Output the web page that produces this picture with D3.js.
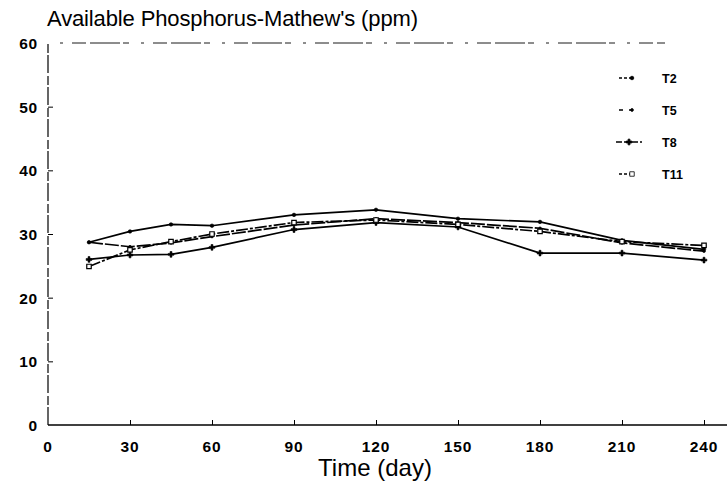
<!DOCTYPE html>
<html>
<head>
<meta charset="utf-8">
<script src="https://cdn.jsdelivr.net/npm/d3@7"></script>
<style>
  body { margin: 0; background: #fff; }
  svg text { font-family: "Liberation Sans", Arial, sans-serif; fill: #000; }
</style>
</head>
<body>
<svg width="727" height="500"></svg>
<script>
const days = [15, 30, 45, 60, 90, 120, 150, 180, 210, 240];
const t2  = [28.7, 30.4, 31.5, 31.3, 33.0, 33.8, 32.4, 31.9, 29.0, 27.6];
const t5  = [28.7, 28.0, 28.6, 29.6, 31.4, 32.4, 31.8, 30.9, 28.6, 27.3];
const t8  = [26.0, 26.7, 26.8, 27.9, 30.7, 31.8, 31.1, 27.0, 27.0, 25.9];
const t11 = [24.9, 27.5, 28.8, 30.0, 31.8, 32.2, 31.5, 30.4, 28.8, 28.2];
const seriesNames = ["T2", "T5", "T8", "T11"];
const xTicks = [0, 30, 60, 90, 120, 150, 180, 210, 240];
const yTicks = [0, 10, 20, 30, 40, 50, 60];

const series = [t2, t5, t8, t11].map((vals, i) => ({
  name: seriesNames[i],
  points: vals.map((v, j) => ({ day: days[j], v: v }))
}));

const svg = d3.select("svg");

const x = d3.scaleLinear().domain([0, 240]).range([48, 704]);
const y = d3.scaleLinear().domain([0, 60]).range([425, 43]);

// title
svg.append("text")
  .attr("x", 47).attr("y", 26)
  .attr("font-size", 22)
  .attr("textLength", 371)
  .text("Available Phosphorus-Mathew's (ppm)");

// axes lines
svg.append("line")
  .attr("x1", 48).attr("x2", 727)
  .attr("y1", y(0)).attr("y2", y(0))
  .attr("stroke", "#000").attr("stroke-width", 1.4);
svg.append("line")
  .attr("x1", 48).attr("x2", 48)
  .attr("y1", y(0)).attr("y2", y(60))
  .attr("stroke", "#000").attr("stroke-width", 1.2)
  .attr("stroke-dasharray", "18,2,9,3");
svg.append("line")
  .attr("x1", 60).attr("x2", 665)
  .attr("y1", y(60)).attr("y2", y(60))
  .attr("stroke", "#000").attr("stroke-width", 0.9)
  .attr("stroke-dasharray", "3,9,14,4,30,3,6,12");

// ticks
const xAxis = d3.axisTop(x).tickValues(xTicks.slice(1)).tickSize(5).tickFormat("");
svg.append("g")
  .attr("transform", `translate(0,${y(0)})`)
  .call(xAxis)
  .call(g => g.select(".domain").remove());

const yAxis = d3.axisRight(y).tickValues(yTicks.slice(1, -1)).tickSize(5).tickFormat("");
svg.append("g")
  .attr("transform", "translate(48,0)")
  .call(yAxis)
  .call(g => g.select(".domain").remove());

// tick labels
svg.append("g").selectAll("text")
  .data(xTicks)
  .join("text")
  .attr("x", d => x(d))
  .attr("y", 452)
  .attr("text-anchor", "middle")
  .attr("font-size", 15.5)
  .attr("font-weight", "bold")
  .attr("letter-spacing", 0.8)
  .text(d => d);

svg.append("g").selectAll("text")
  .data(yTicks)
  .join("text")
  .attr("x", 38)
  .attr("y", d => y(d) + 6)
  .attr("text-anchor", "end")
  .attr("font-size", 15.5)
  .attr("font-weight", "bold")
  .attr("letter-spacing", 0.8)
  .text(d => d);

svg.append("text")
  .attr("x", 375).attr("y", 476)
  .attr("text-anchor", "middle")
  .attr("font-size", 24)
  .text("Time (day)");

// lines
const line = d3.line().x(d => x(d.day)).y(d => y(d.v));
const dashes = [null, "14,2", null, "12,2,3,2"];

svg.append("g").selectAll("path")
  .data(series)
  .join("path")
  .attr("d", d => line(d.points))
  .attr("fill", "none")
  .attr("stroke", "#000")
  .attr("stroke-width", 1.7)
  .attr("stroke-dasharray", (d, i) => dashes[i]);

// markers
const symbols = [d3.symbolCircle, d3.symbolCircle, d3.symbolCross, d3.symbolSquare];
const symSizes = [10, 6, 18, 20];
series.forEach((s, i) => {
  svg.append("g").selectAll("path")
    .data(s.points)
    .join("path")
    .attr("transform", d => `translate(${x(d.day)},${y(d.v)})`)
    .attr("d", d3.symbol().type(symbols[i]).size(symSizes[i]))
    .attr("fill", i === 3 ? "#fff" : "#000")
    .attr("stroke", "#000")
    .attr("stroke-width", i === 3 ? 1.2 : 0.6);
});

// legend
const legendY = [78, 110, 142, 174];
const legend = svg.append("g").selectAll("g")
  .data(series)
  .join("g")
  .attr("transform", (d, i) => `translate(0,${legendY[i]})`);

legend.append("line")
  .attr("x1", (d, i) => i === 2 ? 616 : 619)
  .attr("x2", (d, i) => i === 2 ? 642 : 634)
  .attr("stroke", "#000")
  .attr("stroke-width", 1.4)
  .attr("stroke-dasharray", (d, i) => ["3,2", "4,6", "6,2", "3,2"][i]);

legend.append("path")
  .attr("transform", (d, i) => `translate(${i === 2 ? 629 : 632},0)`)
  .attr("d", (d, i) => d3.symbol().type(symbols[i]).size(symSizes[i])())
  .attr("fill", (d, i) => i === 3 ? "#fff" : "#000")
  .attr("stroke", "#000")
  .attr("stroke-width", 0.8);

legend.append("text")
  .attr("x", 662)
  .attr("y", 5)
  .attr("font-size", 12.5)
  .attr("font-weight", "bold")
  .text(d => d.name);
</script>
</body>
</html>
